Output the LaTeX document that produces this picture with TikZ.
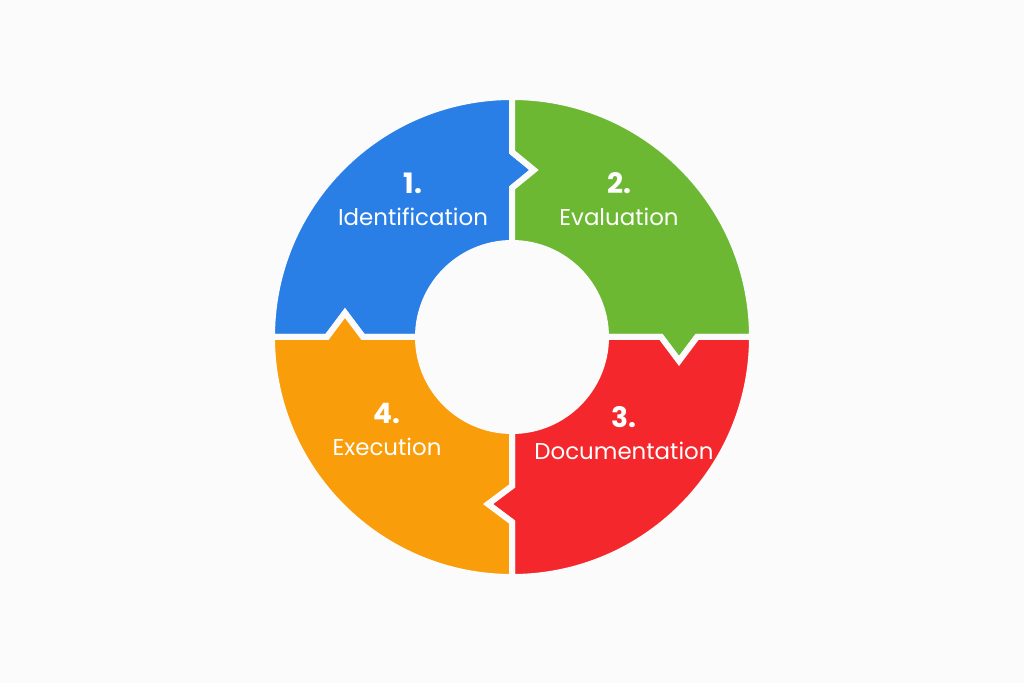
\documentclass[tikz,border=0pt]{standalone}
\usepackage{fontspec}
\setmainfont{Poppins}
\usetikzlibrary{positioning}
\definecolor{bgc}{HTML}{FBFBFB}
\definecolor{blu}{HTML}{2A7FE6}
\definecolor{grn}{HTML}{6CB833}
\definecolor{rd}{HTML}{F4282C}
\definecolor{orng}{HTML}{FA9D0B}
\begin{document}
\begin{tikzpicture}[x=0.025cm,y=0.025cm,node distance=10pt,
                    line join=miter]
  \tikzstyle{piece}=[draw=bgc,line width=0.15cm]
  \tikzstyle{num}=[text=white,font=\fontsize{20}{24}\selectfont\bfseries,inner sep=0pt]
  \tikzstyle{lbl}=[text=white,font=\fontsize{16.3}{20}\selectfont,inner sep=0pt]

  \fill[bgc] (-512,-346) rectangle (512,337);

  % quadrants, tabs sit at radius 167
  \path[piece,fill=blu] (-240,0) -- (-185,0) -- (-167,24) -- (-149,0) -- (-94,0)
        arc[start angle=180,end angle=90,radius=94] -- (0,149) -- (22,167) -- (0,185)
        -- (0,240) arc[start angle=90,end angle=180,radius=240] -- cycle;
  \path[piece,fill=grn] (0,240) -- (0,185) -- (22,167) -- (0,149) -- (0,94)
        arc[start angle=90,end angle=0,radius=94] -- (149,0) -- (167,-24) -- (185,0)
        -- (240,0) arc[start angle=0,end angle=90,radius=240] -- cycle;
  \path[piece,fill=rd] (240,0) -- (185,0) -- (167,-24) -- (149,0) -- (94,0)
        arc[start angle=0,end angle=-90,radius=94] -- (0,-149) -- (-24,-167) -- (0,-185)
        -- (0,-240) arc[start angle=-90,end angle=0,radius=240] -- cycle;
  \path[piece,fill=orng] (0,-240) -- (0,-185) -- (-24,-167) -- (0,-149) -- (0,-94)
        arc[start angle=-90,end angle=-180,radius=94] -- (-149,0) -- (-167,24) -- (-185,0)
        -- (-240,0) arc[start angle=180,end angle=270,radius=240] -- cycle;

  \node[num] (n1) at (-99,154) {1.};
  \node[lbl,below=of n1] (l1) {Identification};
  \node[num] (n2) at (107,154) {2.};
  \node[lbl,below=of n2] (l2) {Evaluation};
  \node[num] (n3) at (112,-80) {3.};
  \node[lbl,below=of n3] (l3) {Documentation};
  \node[num] (n4) at (-125,-76) {4.};
  \node[lbl,below=of n4] (l4) {Execution};
\end{tikzpicture}
\end{document}
